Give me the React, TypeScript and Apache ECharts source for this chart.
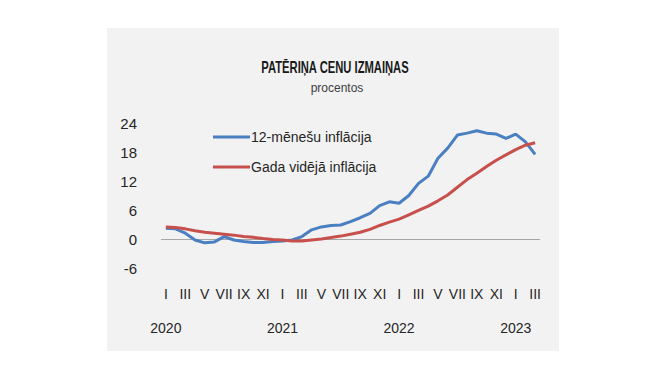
import React, { useEffect, useRef } from "react";
import * as echarts from "echarts";

const romanMonths = ["I", "II", "III", "IV", "V", "VI", "VII", "VIII", "IX", "X", "XI", "XII"];
const years = ["2020", "2021", "2022", "2023"];
const monthCount = 39; // Jan 2020 .. Mar 2023

const categories: string[] = [];
for (let i = 0; i < monthCount; i++) {
  categories.push(years[Math.floor(i / 12)] + "-" + romanMonths[i % 12]);
}

const inflation12m = [
  2.2, 2.1, 1.2, -0.2, -0.8, -0.6, 0.5, -0.2, -0.5, -0.7, -0.7, -0.5,
  -0.4, -0.2, 0.5, 1.9, 2.5, 2.8, 2.9, 3.6, 4.4, 5.3, 6.9, 7.7,
  7.4, 9.0, 11.5, 13.0, 16.7, 18.8, 21.5, 21.9, 22.4, 21.9, 21.7, 20.8,
  21.7, 20.1, 17.5,
];

const inflationAvg = [
  2.5, 2.4, 2.1, 1.7, 1.4, 1.2, 1.0, 0.8, 0.5, 0.35, 0.1, -0.1,
  -0.2, -0.4, -0.4, -0.2, 0.0, 0.3, 0.6, 1.0, 1.4, 2.0, 2.8, 3.5,
  4.1, 5.0, 5.9, 6.8, 7.9, 9.1, 10.7, 12.3, 13.6, 15.0, 16.3, 17.4,
  18.5, 19.4, 19.9,
];

const seriesNames = ["12-mēnešu inflācija", "Gada vidējā inflācija"];
const yTicks = { min: -6, max: 24, interval: 6 };

const FONT = "'Liberation Sans', Arial, sans-serif";

export default function App() {
  const ref = useRef<HTMLDivElement>(null);
  useEffect(() => {
    if (!ref.current) return;
    const chart = echarts.init(ref.current, null, { renderer: "svg" });
    const baseLabel = {
      fontFamily: FONT,
      fontSize: 14,
      color: "#262626",
      hideOverlap: false,
    };
    chart.setOption({
      animation: false,
      backgroundColor: "#ffffff",
      textStyle: { fontFamily: FONT },
      graphic: [
        {
          type: "rect",
          z: -10,
          silent: true,
          shape: { x: 107, y: 28, width: 452, height: 323 },
          style: { fill: "#f2f2f2" },
        },
        {
          type: "text",
          x: 335,
          y: 67,
          scaleX: 0.66,
          style: {
            text: "PATĒRIŅA CENU IZMAIŅAS",
            font: "bold 17px " + FONT,
            fill: "#1a1a1a",
            textAlign: "center",
            textVerticalAlign: "middle",
          },
        },
        {
          type: "text",
          x: 337,
          y: 88,
          style: {
            text: "procentos",
            font: "12px " + FONT,
            fill: "#404040",
            textAlign: "center",
            textVerticalAlign: "middle",
          },
        },
      ],
      legend: {
        orient: "vertical",
        left: 208,
        top: 124,
        itemWidth: 37,
        itemHeight: 3,
        itemGap: 14,
        icon: "rect",
        textStyle: {
          fontFamily: FONT,
          fontSize: 14,
          lineHeight: 16,
          color: "#262626",
          padding: [0, 0, 0, -4],
        },
        data: seriesNames,
      },
      grid: { left: 161, right: 125, top: 123, bottom: 107 },
      xAxis: [
        {
          type: "category",
          data: categories,
          boundaryGap: true,
          position: "bottom",
          axisLine: { show: false },
          axisTick: { show: false },
          axisLabel: {
            ...baseLabel,
            interval: 1,
            margin: 19,
            showMinLabel: true,
            showMaxLabel: true,
            formatter: (v: string, idx: number) => romanMonths[idx % 12],
          },
        },
        {
          type: "category",
          data: categories,
          boundaryGap: true,
          position: "bottom",
          offset: 34,
          axisLine: { show: false },
          axisTick: { show: false },
          axisLabel: {
            ...baseLabel,
            interval: (idx: number) => idx % 12 === 0,
            margin: 19,
            formatter: (v: string, idx: number) => years[Math.floor(idx / 12)],
          },
        },
      ],
      yAxis: {
        type: "value",
        min: yTicks.min,
        max: yTicks.max,
        interval: yTicks.interval,
        axisLine: { show: false },
        axisTick: { show: false },
        splitLine: { show: false },
        axisLabel: {
          margin: 24,
          showMinLabel: true,
          showMaxLabel: true,
          fontFamily: FONT,
          fontSize: 15,
          color: "#262626",
        },
      },
      series: [
        {
          name: seriesNames[0],
          type: "line",
          xAxisIndex: 0,
          data: inflation12m,
          symbol: "none",
          color: "#4a7fc1",
          lineStyle: { width: 3, color: "#4a7fc1" },
          z: 3,
          markLine: {
            silent: true,
            symbol: "none",
            label: { show: false },
            lineStyle: { color: "#a6a6a6", width: 1, type: "solid" },
            data: [{ yAxis: 0 }],
            z: 1,
          },
        },
        {
          name: seriesNames[1],
          type: "line",
          xAxisIndex: 0,
          data: inflationAvg,
          symbol: "none",
          color: "#c8504c",
          lineStyle: { width: 3, color: "#c8504c" },
          z: 4,
        },
      ],
    });
    return () => chart.dispose();
  }, []);
  return (
    <div
      ref={ref}
      style={{ position: "absolute", left: 0, top: 0, width: 665, height: 375 }}
    />
  );
}
